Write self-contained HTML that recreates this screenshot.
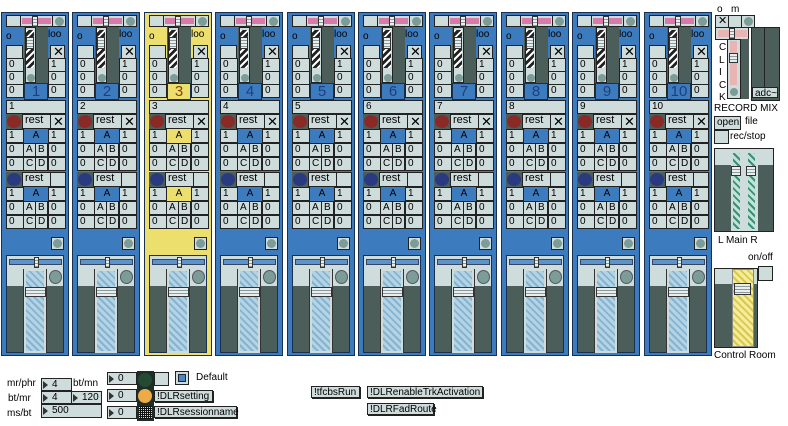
<!DOCTYPE html>
<html><head><meta charset="utf-8">
<style>
*{margin:0;padding:0;box-sizing:border-box}
body{width:788px;height:426px;background:#fff;position:relative;overflow:hidden;font-family:"Liberation Sans",sans-serif;font-size:10px;color:#000}
.a{position:absolute}
.c{position:absolute;background:#cfdcdc;border:1px solid #222;font-size:10px;line-height:11px;padding-left:2px}
.d{position:absolute;background:#4c5e5a}
.ci{position:absolute;border-radius:50%}
.t{position:absolute;white-space:nowrap;font-size:10px}
.hb{background:repeating-linear-gradient(45deg,#b4d4e6 0 3px,#86b3cf 3px 5px)}
.hk{background:repeating-linear-gradient(135deg,#fff 0 2px,#222 2px 5px)}
.hp{background:repeating-linear-gradient(45deg,#e9a6c4 0 3px,#c97ea4 3px 5px)}
.hg{background:repeating-linear-gradient(45deg,#bfe2d6 0 3px,#3c8f76 3px 5px)}
.hy{background:repeating-linear-gradient(45deg,#f4ec9a 0 3px,#d8c84e 3px 5px)}
.knob{position:absolute;background:#e8eeee;border:1px solid #333;background-image:repeating-linear-gradient(180deg,#e8eeee 0 2px,#8a9a9a 2px 3px)}
.msg{position:absolute;background:#cfdcdc;border:1px solid #222;box-shadow:1px 1px 0 #222;font-size:10px;line-height:11px;padding-left:2px}
.num{position:absolute;background:#cfdcdc;border:1px solid #222;font-size:10px;line-height:11px;padding-left:10px}
.num:before{content:"";position:absolute;left:1px;top:2px;border-left:5px solid #333;border-top:4px solid transparent;border-bottom:4px solid transparent}
</style></head><body>
<div id="s"></div>

<div class="t" style="left:717px;top:4px">o</div>
<div class="t" style="left:731px;top:4px">m</div>
<div class="c" style="left:715px;top:15px;width:14px;height:13px;font-size:11px;line-height:11px">✕</div>
<div class="c" style="left:728px;top:15px;width:14px;height:13px"></div>
<div class="c" style="left:741px;top:15px;width:14px;height:13px"></div>
<div class="ci" style="left:744px;top:17px;width:9px;height:9px;background:#7c9c98"></div>
<div class="c" style="left:715px;top:27px;width:34px;height:13px"></div>
<div class="a" style="left:718px;top:30px;width:29px;height:7px;background:#e9b4b4"></div>
<div class="knob" style="left:729px;top:28px;width:6px;height:11px"></div>
<div class="t" style="left:719px;top:42px;line-height:12.5px;width:10px">C<br>L<br>I<br>C<br>K</div>
<div class="c" style="left:727px;top:39px;width:14px;height:60px"></div>
<div class="a" style="left:730px;top:41px;width:7px;height:44px;background:#e9b4b4"></div>
<div class="knob" style="left:729px;top:53px;width:9px;height:10px"></div>
<div class="ci" style="left:730px;top:88px;width:8px;height:8px;background:#7c9c98"></div>
<div class="d" style="left:741px;top:39px;width:8px;height:60px"></div>
<div class="d" style="left:751px;top:27px;width:29px;height:74px;border:1px solid #222"></div>
<div class="a" style="left:764px;top:27px;width:1px;height:62px;background:#222"></div>
<div class="c" style="left:752px;top:87px;width:26px;height:11px;padding-left:2px">adc~</div>
<div class="t" style="left:714px;top:103px">RECORD MIX</div>
<div class="c" style="left:714px;top:116px;width:27px;height:14px">open</div>
<div class="t" style="left:745px;top:116px">file</div>
<div class="c" style="left:714px;top:130px;width:15px;height:14px"></div>
<div class="t" style="left:730px;top:131px">rec/stop</div>
<div class="d" style="left:714px;top:148px;width:60px;height:84px;border:1px solid #222"></div>
<div class="c" style="left:715px;top:149px;width:58px;height:16px;border:none"></div>
<div class="a" style="left:731px;top:149px;width:27px;height:82px;background:#cfdcdc"></div>
<div class="a hg" style="left:733px;top:153px;width:7px;height:76px"></div>
<div class="a hg" style="left:748px;top:153px;width:7px;height:76px"></div>
<div class="knob" style="left:731px;top:166px;width:10px;height:10px"></div>
<div class="knob" style="left:746px;top:166px;width:10px;height:10px"></div>
<div class="t" style="left:718px;top:235px">L Main R</div>
<div class="t" style="left:748px;top:252px">on/off</div>
<div class="c" style="left:758px;top:266px;width:15px;height:15px"></div>
<div class="d" style="left:714px;top:268px;width:44px;height:80px;border:1px solid #222"></div>
<div class="c" style="left:715px;top:269px;width:42px;height:15px;border:none"></div>
<div class="a hy" style="left:732px;top:269px;width:22px;height:78px;border:1px solid #888"></div>
<div class="knob" style="left:734px;top:283px;width:17px;height:12px"></div>
<div class="t" style="left:714px;top:350px">Control Room</div>

<div class="t" style="left:7px;top:378px">mr/phr</div>
<div class="t" style="left:8px;top:393px">bt/mr</div>
<div class="t" style="left:7px;top:408px">ms/bt</div>
<div class="t" style="left:73px;top:378px">bt/mn</div>
<div class="num" style="left:41px;top:378px;width:31px;height:13px">4</div>
<div class="num" style="left:41px;top:391px;width:31px;height:13px">4</div>
<div class="num" style="left:71px;top:391px;width:31px;height:13px">120</div>
<div class="num" style="left:41px;top:404px;width:61px;height:14px">500</div>
<div class="num" style="left:107px;top:372px;width:30px;height:13px">0</div>
<div class="num" style="left:107px;top:389px;width:30px;height:13px">0</div>
<div class="num" style="left:107px;top:406px;width:30px;height:13px">0</div>
<div class="a" style="left:137px;top:371px;width:17px;height:50px;background:#1e2e26"></div>
<div class="ci" style="left:138px;top:373px;width:14px;height:14px;background:#244a34"></div>
<div class="ci" style="left:138px;top:389px;width:14px;height:14px;background:#eeaa44"></div>
<div class="a" style="left:139px;top:406px;width:13px;height:13px;background-color:#111;background-image:linear-gradient(90deg,transparent 50%,#111 50%),linear-gradient(0deg,#ddd 50%,#111 50%);background-size:2px 2px"></div>
<div class="c" style="left:154px;top:372px;width:15px;height:14px"></div>
<div class="c" style="left:175px;top:371px;width:14px;height:14px"></div>
<div class="a" style="left:178px;top:374px;width:8px;height:8px;background:#4a86c6;border:1px solid #223"></div>
<div class="t" style="left:196px;top:372px">Default</div>
<div class="msg" style="left:154px;top:390px;width:59px;height:12px">!DLRsetting</div>
<div class="msg" style="left:154px;top:406px;width:83px;height:12px">!DLRsessionname</div>
<div class="msg" style="left:311px;top:386px;width:49px;height:12px">!tfcbsRun</div>
<div class="msg" style="left:367px;top:386px;width:116px;height:12px">!DLRenableTrkActivation</div>
<div class="msg" style="left:367px;top:403px;width:67px;height:12px">!DLRFadRoute</div>

<script>
var h='';
for(var i=0;i<10;i++){
 var x=Math.round(1+i*71.4), y=12, yel=(i==2);
 var bg=yel?'#ecdf6e':'#3c7bbd', big=yel?'#ecdf6e':'#3c7bbd';
 function c(l,t,w,hh,txt,st){h+='<div class="c" style="left:'+(x+l)+'px;top:'+(y+t)+'px;width:'+w+'px;height:'+hh+'px;'+(st||'')+'">'+(txt||'')+'</div>';}
 function a(l,t,w,hh,cls,st){h+='<div class="'+cls+'" style="left:'+(x+l)+'px;top:'+(y+t)+'px;width:'+w+'px;height:'+hh+'px;'+(st||'')+'"></div>';}
 function tx(l,t,txt,st){h+='<div class="t" style="left:'+(x+l)+'px;top:'+(y+t)+'px;'+(st||'')+'">'+txt+'</div>';}
 a(0,0,68,344,'a','background:'+bg+';border:1px solid #1a3050');
 c(5,3,15,12); c(19,3,33,12); a(21,6,29,6,'a','background:#d77ca8'); a(31,4,6,11,'knob'); c(51,3,14,12); a(54,5,9,9,'ci','background:#7c9c98');
 tx(5,19,'o'); tx(47,17,'loo');
 a(23,15,24,57,'d'); a(24,15,11,56,'a','background:#cfdcdc;border:1px solid #222'); a(25,18,8,38,'a hk'); a(25,25,8,12,'knob'); a(26,62,8,8,'ci','background:#7c9c98');
 c(5,33,17,14); c(49,33,15,14,'✕','font-size:13px;line-height:12px');
 var rows=[[46,'0','1'],[59,'0','0'],[72,'0','0']];
 rows.forEach(function(r){c(5,r[0],18,14,r[1]);c(47,r[0],18,14,r[2]);});
 a(23,71,24,17,'a','background:'+big+';border:1px solid #1a3050');
 tx(23,71,String(i+1),'width:24px;text-align:center;font-size:15px;line-height:17px;color:'+(yel?'#7a4a10':'#1e3f80'));
 c(5,88,60,14,String(i+1));
 for(var g=0;g<2;g++){
  var o=g?160:102;
  a(5,o,17,15,'d'); a(6,o+1,14,13,'ci','background:'+(g?'#2a3a80':'#8a2a26'));
  c(21,o,29,15,'rest','font-size:11px'); c(49,o,16,15,g?'':'✕','font-size:13px;line-height:13px');
  c(5,o+15,18,14,'1'); a(23,o+15,24,14,'a','background:'+big); tx(23,o+16,'A','width:24px;text-align:center'); c(47,o+15,18,14,'1');
  c(5,o+29,18,14,'0'); c(22,o+29,13,14,'A'); c(34,o+29,13,14,'B'); c(47,o+29,18,14,'0');
  c(5,o+43,18,14,'0'); c(22,o+43,13,14,'C'); c(34,o+43,13,14,'D'); c(47,o+43,18,14,'0');
 }
 c(50,225,13,13); a(52,227,9,9,'ci','background:#7c9c98');
 a(5,243,58,98,'d','border:1px solid #1a3050');
 a(6,244,56,13,'a','background:#cfdcdc'); a(8,247,53,6,'a','background:#5d93c9;border:1px solid #346'); a(33,245,5,11,'knob');
 a(6,257,56,17,'a','background:#cfdcdc');
 a(22,257,24,84,'a','background:#cfdcdc;border-left:1px solid #333;border-right:1px solid #333'); a(25,259,18,80,'a hb'); a(24,275,21,10,'knob');
 a(48,258,13,14,'ci','background:#7c9c98;border:1px solid #556');
}
document.getElementById('s').innerHTML=h;
</script>
</body></html>
